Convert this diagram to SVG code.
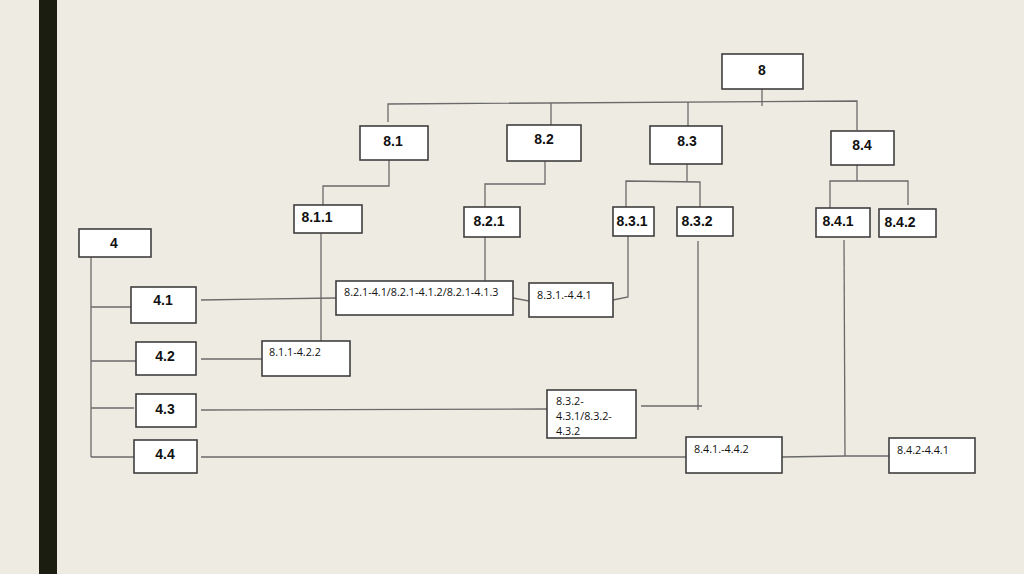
<svg xmlns="http://www.w3.org/2000/svg" width="1024" height="574" viewBox="0 0 1024 574">
<style>
.bg{fill:#eeebe3}
.bar{fill:#1b1d10}
.box{fill:#ffffff;stroke:#3f3f3f;stroke-width:1.6}
.ln{fill:none;stroke:#6a6a6a;stroke-width:1.3}
.lb{font-family:"Liberation Sans Narrow","Liberation Sans",Arial,sans-serif;font-weight:bold;font-size:14px;fill:#111;text-anchor:middle}
.sm{font-family:"Open Sans","Liberation Sans",Arial,sans-serif;font-size:10.8px;fill:#111}
</style>
<rect class="bg" x="0" y="0" width="1024" height="574"/>
<rect class="bar" x="39" y="0" width="18" height="574"/>

<g id="connectors">
  <polyline class="ln" points="388,122 388,104 857,101 857,130"/>
  <line class="ln" x1="762" y1="89" x2="762" y2="106"/>
  <line class="ln" x1="551" y1="103" x2="551" y2="125"/>
  <line class="ln" x1="688" y1="102" x2="688" y2="126"/>
  <polyline class="ln" points="389,160 389,186 323,186 323,205"/>
  <polyline class="ln" points="545,161 545,184 485,184 485,207"/>
  <line class="ln" x1="687" y1="164" x2="687" y2="182"/>
  <polyline class="ln" points="626,207 626,181 700,182 700,207"/>
  <line class="ln" x1="857" y1="165" x2="857" y2="181"/>
  <polyline class="ln" points="830,208 830,181 908,181 908,205"/>
  <line class="ln" x1="91" y1="257" x2="91" y2="457"/>
  <line class="ln" x1="91" y1="307" x2="131" y2="307"/>
  <line class="ln" x1="91" y1="361" x2="136" y2="361"/>
  <line class="ln" x1="91" y1="408" x2="134" y2="408"/>
  <line class="ln" x1="91" y1="457" x2="134" y2="457"/>
  <line class="ln" x1="201" y1="300" x2="336" y2="298"/>
  <line class="ln" x1="485" y1="237" x2="485" y2="281"/>
  <line class="ln" x1="321" y1="233" x2="321" y2="341"/>
  <line class="ln" x1="513" y1="298" x2="529" y2="301"/>
  <polyline class="ln" points="613,300 628,297 628,236"/>
  <line class="ln" x1="201" y1="359" x2="262" y2="359"/>
  <line class="ln" x1="201" y1="410" x2="547" y2="409"/>
  <line class="ln" x1="641" y1="406" x2="702" y2="406"/>
  <line class="ln" x1="698" y1="241" x2="698" y2="410"/>
  <line class="ln" x1="201" y1="457" x2="686" y2="457"/>
  <polyline class="ln" points="782,457 845,456 889,456"/>
  <line class="ln" x1="844" y1="240" x2="845" y2="456"/>
</g>

<g id="n8"><rect class="box" x="722" y="54" width="81" height="35"/><text class="lb" x="762" y="75">8</text></g>
<g id="n8_1"><rect class="box" x="360" y="126" width="68" height="34"/><text class="lb" x="393" y="146">8.1</text></g>
<g id="n8_2"><rect class="box" x="507" y="125" width="74" height="36"/><text class="lb" x="544" y="144">8.2</text></g>
<g id="n8_3"><rect class="box" x="650" y="126" width="72" height="38"/><text class="lb" x="687" y="146">8.3</text></g>
<g id="n8_4"><rect class="box" x="831" y="131" width="63" height="34"/><text class="lb" x="862" y="150">8.4</text></g>
<g id="n8_1_1"><rect class="box" x="294" y="205" width="68" height="28"/><text class="lb" x="317" y="222">8.1.1</text></g>
<g id="n8_2_1"><rect class="box" x="464" y="207" width="56" height="30"/><text class="lb" x="489" y="226">8.2.1</text></g>
<g id="n8_3_1"><rect class="box" x="613" y="207" width="41" height="29"/><text class="lb" x="632" y="226">8.3.1</text></g>
<g id="n8_3_2"><rect class="box" x="677" y="207" width="56" height="29"/><text class="lb" x="697" y="226">8.3.2</text></g>
<g id="n8_4_1"><rect class="box" x="816" y="208" width="54" height="29"/><text class="lb" x="838" y="226">8.4.1</text></g>
<g id="n8_4_2"><rect class="box" x="879" y="209" width="57" height="28"/><text class="lb" x="900" y="227">8.4.2</text></g>

<g id="n4"><rect class="box" x="79" y="229" width="72" height="28"/><text class="lb" x="114" y="248">4</text></g>
<g id="n4_1"><rect class="box" x="131" y="287" width="65" height="36"/><text class="lb" x="163" y="305">4.1</text></g>
<g id="n4_2"><rect class="box" x="136" y="342" width="60" height="33"/><text class="lb" x="165" y="361">4.2</text></g>
<g id="n4_3"><rect class="box" x="136" y="394" width="60" height="33"/><text class="lb" x="165" y="414">4.3</text></g>
<g id="n4_4"><rect class="box" x="134" y="440" width="63" height="33"/><text class="lb" x="165" y="459">4.4</text></g>

<g id="c821"><rect class="box" x="336" y="281" width="177" height="34"/><text class="sm" x="344" y="296">8.2.1-4.1/8.2.1-4.1.2/8.2.1-4.1.3</text></g>
<g id="c831"><rect class="box" x="529" y="283" width="84" height="34"/><text class="sm" x="537" y="299">8.3.1.-4.4.1</text></g>
<g id="c811"><rect class="box" x="262" y="341" width="88" height="35"/><text class="sm" x="269" y="356">8.1.1-4.2.2</text></g>
<g id="c832"><rect class="box" x="547" y="390" width="89" height="48"/><text class="sm" x="556" y="405">8.3.2-</text><text class="sm" x="556" y="420">4.3.1/8.3.2-</text><text class="sm" x="556" y="435">4.3.2</text></g>
<g id="c841"><rect class="box" x="686" y="437" width="96" height="36"/><text class="sm" x="694" y="453">8.4.1.-4.4.2</text></g>
<g id="c842"><rect class="box" x="889" y="438" width="86" height="35"/><text class="sm" x="897" y="454">8.4.2-4.4.1</text></g>
</svg>
